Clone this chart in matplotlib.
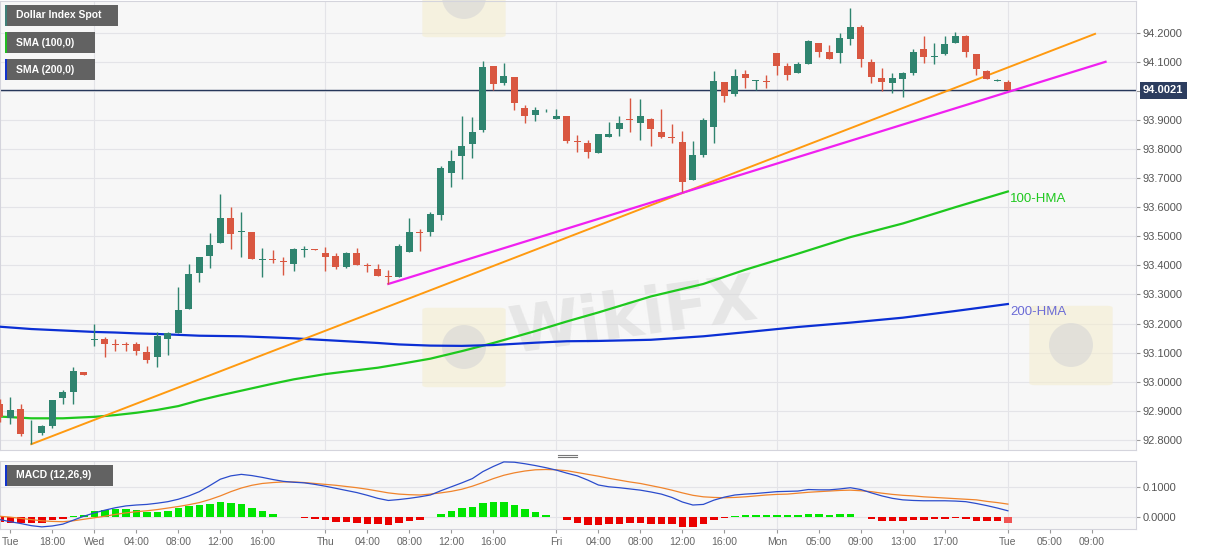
import matplotlib
matplotlib.use("Agg")
import matplotlib.pyplot as plt
from matplotlib.patches import Rectangle, FancyBboxPatch, Ellipse
from matplotlib.lines import Line2D
import numpy as np

# hourly candles, index 0 = first "Tue" tick
candle_idx = list(range(-1, 96))
opens = [92.924, 92.874, 92.905, 92.822, 92.823, 92.848, 92.943, 92.963, 93.034, 93.145,
         93.147, 93.130, 93.130, 93.129, 93.102, 93.084, 93.148, 93.169, 93.251, 93.373,
         93.433, 93.476, 93.564, 93.515, 93.516, 93.419, 93.421, 93.416, 93.405, 93.454,
         93.455, 93.441, 93.433, 93.394, 93.441, 93.400, 93.389, 93.362, 93.361, 93.447,
         93.516, 93.514, 93.573, 93.718, 93.777, 93.818, 93.866, 94.086, 94.027, 94.047,
         93.940, 93.918, 93.926, 93.903, 93.912, 93.829, 93.822, 93.788, 93.843, 93.869,
         93.903, 93.891, 93.904, 93.857, 93.843, 93.823, 93.694, 93.780, 93.877, 94.031,
         93.988, 94.058, 94.034, 94.033, 94.129, 94.084, 94.063, 94.093, 94.166, 94.132,
         94.129, 94.177, 94.219, 94.100, 94.045, 94.026, 94.041, 94.061, 94.143, 94.116,
         94.127, 94.163, 94.189, 94.127, 94.070, 94.035, 94.029]
highs = [92.940, 92.947, 92.924, 92.869, 92.852, 92.936, 92.972, 93.052, 93.034, 93.199,
         93.153, 93.146, 93.138, 93.138, 93.121, 93.172, 93.172, 93.327, 93.405, 93.428,
         93.511, 93.645, 93.600, 93.585, 93.516, 93.458, 93.454, 93.430, 93.461, 93.465,
         93.456, 93.464, 93.444, 93.445, 93.461, 93.407, 93.406, 93.383, 93.473, 93.562,
         93.526, 93.583, 93.743, 93.797, 93.912, 93.909, 94.101, 94.086, 94.095, 94.047,
         93.952, 93.943, 93.937, 93.938, 93.912, 93.849, 93.831, 93.851, 93.894, 93.912,
         93.977, 93.971, 93.906, 93.937, 93.887, 93.862, 93.829, 93.908, 94.068, 94.031,
         94.074, 94.072, 94.038, 94.055, 94.129, 94.095, 94.100, 94.175, 94.166, 94.158,
         94.198, 94.284, 94.227, 94.109, 94.077, 94.060, 94.066, 94.143, 94.187, 94.166,
         94.187, 94.201, 94.193, 94.127, 94.072, 94.040, 94.036]
lows = [92.860, 92.855, 92.814, 92.785, 92.815, 92.842, 92.924, 92.924, 93.022, 93.121,
        93.084, 93.104, 93.106, 93.091, 93.063, 93.050, 93.091, 93.167, 93.249, 93.342,
        93.390, 93.476, 93.456, 93.428, 93.422, 93.361, 93.407, 93.367, 93.381, 93.428,
        93.452, 93.382, 93.387, 93.390, 93.400, 93.378, 93.365, 93.336, 93.361, 93.447,
        93.450, 93.501, 93.556, 93.669, 93.696, 93.768, 93.858, 94.003, 94.019, 93.935,
        93.889, 93.898, 93.926, 93.903, 93.820, 93.791, 93.768, 93.786, 93.840, 93.845,
        93.858, 93.831, 93.809, 93.837, 93.822, 93.651, 93.694, 93.771, 93.820, 93.963,
        93.984, 94.009, 94.003, 94.009, 94.055, 94.038, 94.060, 94.093, 94.118, 94.109,
        94.095, 94.158, 94.083, 94.026, 93.998, 93.994, 93.978, 94.055, 94.097, 94.093,
        94.123, 94.163, 94.118, 94.055, 94.040, 94.033, 94.002]
closes = [92.880, 92.901, 92.819, 92.824, 92.848, 92.936, 92.963, 93.038, 93.022, 93.147,
          93.130, 93.126, 93.126, 93.104, 93.074, 93.157, 93.167, 93.247, 93.369, 93.427,
          93.469, 93.564, 93.509, 93.518, 93.422, 93.421, 93.417, 93.413, 93.455, 93.457,
          93.453, 93.427, 93.396, 93.442, 93.400, 93.398, 93.365, 93.359, 93.467, 93.516,
          93.512, 93.576, 93.736, 93.758, 93.811, 93.859, 94.081, 94.024, 94.051, 93.959,
          93.914, 93.935, 93.929, 93.915, 93.826, 93.823, 93.791, 93.851, 93.850, 93.891,
          93.900, 93.912, 93.868, 93.843, 93.837, 93.686, 93.780, 93.899, 94.035, 93.984,
          94.051, 94.043, 94.036, 94.031, 94.086, 94.055, 94.091, 94.173, 94.135, 94.109,
          94.181, 94.219, 94.109, 94.049, 94.032, 94.045, 94.060, 94.135, 94.115, 94.121,
          94.160, 94.189, 94.132, 94.074, 94.040, 94.036, 94.0021]
last_price = 94.0021

# hourly moving averages, read at a few candles
hma_idx = [-1, 2, 5, 8, 10, 12, 14, 16, 18, 20, 22, 25, 27, 30, 32, 35, 37, 40, 43, 46,
           50, 53, 56, 61, 66, 70, 75, 80, 85, 90, 95]
hma100 = [92.880, 92.874, 92.874, 92.879, 92.885, 92.893, 92.903, 92.916, 92.936, 92.953,
          92.969, 92.993, 93.008, 93.026, 93.035, 93.048, 93.060, 93.079, 93.105, 93.133,
          93.174, 93.207, 93.238, 93.293, 93.336, 93.385, 93.440, 93.497, 93.544, 93.600,
          93.654]
hma200 = [93.189, 93.181, 93.176, 93.171, 93.169, 93.166, 93.164, 93.161, 93.158, 93.157,
          93.156, 93.152, 93.149, 93.143, 93.139, 93.133, 93.128, 93.124, 93.123, 93.126,
          93.134, 93.139, 93.140, 93.144, 93.156, 93.170, 93.188, 93.203, 93.220, 93.243,
          93.267]

# support lines (start / end)
orange_x = [2, 103.3]
orange_y = [92.785, 94.196]
pink_x = [36, 104.3]
pink_y = [93.336, 94.100]

# MACD (12,26,9)
macd_line = [-0.008, -0.015, -0.021, -0.028, -0.032, -0.029, -0.023, -0.010, 0.003, 0.014,
             0.023, 0.031, 0.037, 0.040, 0.042, 0.046, 0.051, 0.059, 0.070, 0.084,
             0.104, 0.125, 0.136, 0.141, 0.137, 0.131, 0.124, 0.118, 0.115, 0.113,
             0.108, 0.102, 0.095, 0.088, 0.081, 0.072, 0.062, 0.055, 0.058, 0.062,
             0.067, 0.073, 0.087, 0.100, 0.113, 0.127, 0.150, 0.167, 0.182, 0.181,
             0.176, 0.170, 0.163, 0.155, 0.145, 0.136, 0.122, 0.106, 0.100, 0.097,
             0.093, 0.089, 0.083, 0.076, 0.065, 0.050, 0.040, 0.042, 0.056, 0.066,
             0.073, 0.076, 0.078, 0.081, 0.084, 0.085, 0.086, 0.091, 0.090, 0.090,
             0.093, 0.097, 0.091, 0.080, 0.070, 0.062, 0.057, 0.055, 0.054, 0.054,
             0.054, 0.053, 0.051, 0.045, 0.038, 0.030, 0.021]
macd_signal = [0.003, 0.000, -0.004, -0.008, -0.012, -0.014, -0.015, -0.012, -0.007, -0.002,
               0.003, 0.009, 0.014, 0.018, 0.021, 0.025, 0.030, 0.035, 0.041, 0.048,
               0.058, 0.070, 0.084, 0.096, 0.105, 0.111, 0.114, 0.116, 0.116, 0.114,
               0.111, 0.108, 0.105, 0.101, 0.097, 0.092, 0.086, 0.080, 0.076, 0.074,
               0.073, 0.076, 0.080, 0.085, 0.092, 0.102, 0.114, 0.127, 0.138, 0.146,
               0.152, 0.156, 0.157, 0.156, 0.153, 0.147, 0.141, 0.135, 0.128, 0.122,
               0.116, 0.111, 0.104, 0.097, 0.089, 0.080, 0.072, 0.067, 0.065, 0.064,
               0.065, 0.067, 0.070, 0.073, 0.075, 0.076, 0.079, 0.082, 0.084, 0.086,
               0.088, 0.089, 0.087, 0.084, 0.079, 0.075, 0.072, 0.070, 0.067, 0.065,
               0.063, 0.061, 0.059, 0.057, 0.052, 0.048, 0.043]
macd_hist = [-0.015, -0.018, -0.020, -0.020, -0.019, -0.010, -0.005, 0.003, 0.008, 0.019,
             0.025, 0.027, 0.026, 0.022, 0.018, 0.018, 0.021, 0.029, 0.036, 0.040,
             0.042, 0.049, 0.047, 0.042, 0.029, 0.019, 0.010, 0.002, 0.000, -0.003,
             -0.006, -0.010, -0.015, -0.015, -0.019, -0.021, -0.024, -0.026, -0.019, -0.012,
             -0.008, 0.000, 0.012, 0.021, 0.029, 0.034, 0.047, 0.049, 0.049, 0.040,
             0.026, 0.016, 0.008, 0.000, -0.010, -0.019, -0.026, -0.026, -0.024, -0.022,
             -0.020, -0.018, -0.021, -0.022, -0.023, -0.033, -0.032, -0.023, -0.009, -0.003,
             0.003, 0.007, 0.007, 0.007, 0.008, 0.007, 0.007, 0.011, 0.009, 0.008,
             0.009, 0.010, 0.002, -0.005, -0.011, -0.014, -0.012, -0.010, -0.010, -0.007,
             -0.005, -0.004, -0.005, -0.011, -0.013, -0.014, -0.020]

tick_pos = [0, 4, 8, 12, 16, 20, 24, 30, 34, 38, 42, 46, 52, 56, 60, 64, 68,
            73, 77, 81, 85, 89, 95, 99, 103]
tick_labels = ["Tue", "18:00", "Wed", "04:00", "08:00", "12:00", "16:00", "Thu", "04:00",
               "08:00", "12:00", "16:00", "Fri", "04:00", "08:00", "12:00", "16:00", "Mon",
               "05:00", "09:00", "13:00", "17:00", "Tue", "05:00", "09:00"]
day_breaks = [8, 30, 52, 73, 95]

W, H = 1207, 555
BG = "#f7f7f7"
GRID = "#e4e4e8"
SPINE = "#d4d4dc"
UP = "#2f846f"
DOWN = "#d95741"

plt.rcParams["font.family"] = ["Liberation Sans", "DejaVu Sans"]

fig = plt.figure(figsize=(W / 100, H / 100), dpi=100)
fig.patch.set_facecolor("white")

ax = fig.add_axes([0, 1 - 450 / H, 1136 / W, 449 / H])
mx = fig.add_axes([0, 1 - 529 / H, 1136 / W, 68 / H], sharex=ax)

for a in (ax, mx):
    a.set_facecolor(BG)
    a.set_axisbelow(True)
    for s in a.spines.values():
        s.set_color(SPINE)
        s.set_linewidth(0.8)
    a.yaxis.tick_right()
    a.tick_params(axis="y", length=3, width=0.8, color="#999999", pad=2,
                  labelsize=8, labelcolor="#555555")
    a.yaxis.grid(True, color=GRID, lw=0.8)
    for d in day_breaks:
        a.axvline(d, color=GRID, lw=0.8, zorder=0.5)

ax.set_xlim(-0.98, 107.2)
ax.set_ylim(92.765, 94.309)
yt = np.round(np.arange(92.8, 94.21, 0.1), 1)
ax.set_yticks(yt)
ax.set_yticklabels(["%.4f" % v for v in yt])
ax.tick_params(axis="x", bottom=False, labelbottom=False)

# watermark (drawn under the data)
ax.text(505 / 1136, (450 - 318) / 449, "WikiFX", transform=ax.transAxes, zorder=0.6,
        color="#d8d8d8", alpha=0.55, fontsize=46, fontweight="bold", family="DejaVu Sans",
        rotation=8, va="center")
for lx, ly in [(428, 310), (1035, 308), (428, -40)]:
    ax.add_patch(FancyBboxPatch((lx / 1136, (450 - ly - 75) / 449), 72 / 1136, 75 / 449,
                                boxstyle="round,pad=0.005", transform=ax.transAxes,
                                fc="#f4edd0", ec="none", alpha=0.6, zorder=0.6, clip_on=False))
    ax.add_patch(Ellipse(((lx + 36) / 1136, (450 - ly - 37) / 449), 44 / 1136, 44 / 449,
                         transform=ax.transAxes, fc="#d6d6d6", ec="none", alpha=0.6,
                         zorder=0.61, clip_on=False))

# candles
x = np.array(candle_idx)
o = np.array(opens)
c = np.array(closes)
cols = np.where(c >= o, UP, DOWN)
body_h = np.maximum(np.abs(c - o), 0.0025)
body_lo = (o + c) / 2 - body_h / 2
ax.vlines(x, lows, highs, colors=cols, lw=1.0, zorder=3)
ax.bar(x, body_h, bottom=body_lo, width=0.68, color=cols, linewidth=0, zorder=4)

# moving averages and trend lines
ax.plot(hma_idx, hma100, color="#1ec81e", lw=1.6, zorder=2.6)
ax.plot(hma_idx, hma200, color="#0b2fd4", lw=1.6, zorder=2.6)
ax.plot(orange_x, orange_y, color="#ff9a10", lw=1.4, zorder=2.7)
ax.plot(pink_x, pink_y, color="#f020f0", lw=1.6, zorder=2.8)
ax.annotate("100-HMA", xy=(hma_idx[-1], hma100[-1]), xytext=(1.5, -1.2),
            textcoords="offset points", ha="left", va="top", color="#1ec81e", fontsize=9.5)
ax.annotate("200-HMA", xy=(hma_idx[-1], hma200[-1]), xytext=(1.5, -1.2),
            textcoords="offset points", ha="left", va="top", color="#6b6bd6", fontsize=9.5)

# last price line and tag
ax.axhline(last_price, color="#26375a", lw=1.0, zorder=2.5)
ax.annotate("%.4f" % last_price, xy=(1, last_price), xycoords=("axes fraction", "data"),
            xytext=(5, 0), textcoords="offset points", ha="left", va="center",
            color="white", fontsize=8, fontweight="bold", annotation_clip=False, zorder=20,
            bbox=dict(boxstyle="square,pad=0.3", fc="#2c3d5f", ec="none"))

# MACD panel
mx.set_ylim(-0.039, 0.185)
mx.set_yticks([0.0, 0.1])
mx.set_yticklabels(["0.0000", "0.1000"])
hist = np.array(macd_hist)
hcols = np.where(hist >= 0, "#00e600", "#ea0000")
hcols[-1] = "#f05454"
mx.bar(x, hist, width=0.72, color=hcols, linewidth=0, zorder=2)
mx.plot(x, macd_signal, color="#f0842c", lw=0.9, zorder=3)
mx.plot(x, macd_line, color="#2b4ccc", lw=0.9, zorder=4)
mx.set_xticks(tick_pos)
mx.set_xticklabels(tick_labels)
mx.tick_params(axis="x", length=3, width=0.8, color="#999999", pad=3,
               labelsize=7.5, labelcolor="#666666")


# label boxes in the upper left corners
def label_box(px, py, w, h, text, stripe):
    fig.add_artist(Rectangle((px / W, 1 - (py + h) / H), w / W, h / H,
                             transform=fig.transFigure, fc="#626262", ec="none", zorder=10))
    fig.add_artist(Rectangle((px / W, 1 - (py + h) / H), 2 / W, h / H,
                             transform=fig.transFigure, fc=stripe, ec="none", zorder=11))
    fig.text((px + 11) / W, 1 - (py + h / 2) / H, text, color="white", fontsize=7.5,
             fontweight="bold", ha="left", va="center", zorder=12)


label_box(5, 5, 113, 21, "Dollar Index Spot", "#3f7f78")
label_box(5, 32, 90, 21, "SMA (100,0)", "#22bb22")
label_box(5, 59, 90, 21, "SMA (200,0)", "#1133cc")
label_box(5, 465, 108, 21, "MACD (12,26,9)", "#1133cc")

# panel resize handle
for hy in (454.5, 457):
    fig.add_artist(Line2D([558 / W, 577 / W], [1 - hy / H, 1 - hy / H],
                          transform=fig.transFigure, color="#777777", lw=0.8))

fig.savefig("out.png", dpi=100)
